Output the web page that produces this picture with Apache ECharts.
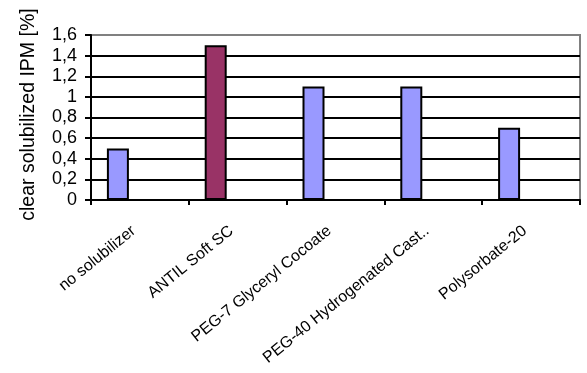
<!DOCTYPE html>
<html>
<head>
<meta charset="utf-8">
<script src="https://cdn.jsdelivr.net/npm/echarts@6/dist/echarts.min.js"></script>
<style>
html,body{margin:0;padding:0;background:#fff;}
#chart{width:587px;height:373px;}
</style>
</head>
<body>
<div id="chart"></div>
<script>
var categories = ['no solubilizer', 'ANTIL Soft SC', 'PEG-7 Glyceryl Cocoate', 'PEG-40 Hydrogenated Cast..', 'Polysorbate-20'];
var values = [0.5, 1.5, 1.1, 1.1, 0.7];
var barColors = ['#9999FF', '#993366', '#9999FF', '#9999FF', '#9999FF'];
var yTickLabels = ['0', '0,2', '0,4', '0,6', '0,8', '1', '1,2', '1,4', '1,6'];
var yTitle = 'clear solubilized IPM [%]';

var FONT = '"Liberation Sans", Arial, sans-serif';
var chart = echarts.init(document.getElementById('chart'), null, {renderer: 'canvas'});

var mainData = values.map(function (v, i) {
  return {value: v, itemStyle: {color: barColors[i]}};
});
var emptyData = categories.map(function () { return null; });

var splitColors = yTickLabels.map(function (t, i) {
  return i === yTickLabels.length - 1 ? '#808080' : '#000000';
});

chart.setOption({
  animation: false,
  backgroundColor: '#ffffff',
  grid: {
    left: 91, right: 7, top: 35, bottom: 173,
    containLabel: false, outerBoundsMode: 'none',
    show: true, borderColor: '#808080', borderWidth: 2, backgroundColor: 'transparent'
  },
  xAxis: {
    type: 'category',
    data: categories,
    boundaryGap: true,
    axisLine: {show: true, lineStyle: {color: '#000', width: 2}},
    axisTick: {show: true, length: 5, lineStyle: {color: '#000', width: 2}},
    axisLabel: {
      rotate: 39, interval: 0, margin: 24, padding: [0, 8, 0, 0],
      color: '#000', fontSize: 16, fontFamily: FONT
    },
    splitLine: {show: false}
  },
  yAxis: {
    type: 'value',
    min: 0, max: 1.6, interval: 0.2,
    name: yTitle,
    nameLocation: 'middle',
    nameGap: 52,
    nameRotate: 90,
    nameTextStyle: {color: '#000', fontSize: 19.5, fontFamily: FONT, padding: [0, 0, 0, 6]},
    axisLine: {show: true, lineStyle: {color: '#000', width: 2}},
    axisTick: {show: true, length: 6, lineStyle: {color: '#000', width: 2}},
    axisLabel: {
      margin: 14, color: '#000', fontSize: 18, fontFamily: FONT,
      formatter: function (v) {
        var idx = Math.round(v / 0.2);
        return yTickLabels[idx] !== undefined ? yTickLabels[idx] : '';
      }
    },
    splitLine: {show: true, lineStyle: {color: splitColors, width: 2}}
  },
  series: [
    {
      type: 'bar', data: mainData, barWidth: 22, barGap: '0%',
      itemStyle: {borderColor: '#000', borderWidth: 2}
    },
    {type: 'bar', data: emptyData, barWidth: 22, barGap: '0%'},
    {type: 'bar', data: emptyData, barWidth: 22, barGap: '0%'}
  ]
});
</script>
</body>
</html>
